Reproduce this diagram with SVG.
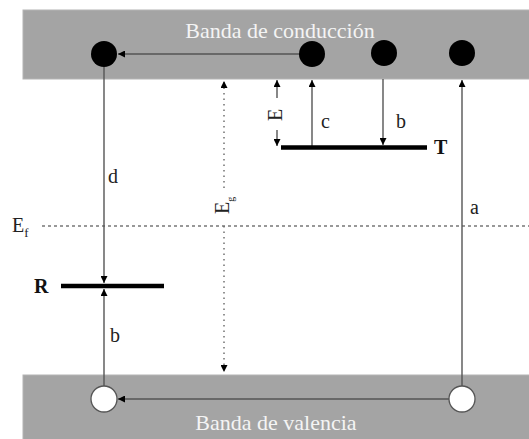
<svg xmlns="http://www.w3.org/2000/svg" width="529" height="439" viewBox="0 0 529 439">
  <style>
    .band { fill: #a4a4a4; stroke: #b4b4b4; stroke-width: 1; }
    .serif { font-family: "Times New Roman", "Liberation Serif", "DejaVu Serif", serif; }
    .band-label { font-size: 22px; fill: #f4f4f4; text-anchor: middle; }
    .lbl { font-size: 20px; fill: #222; }
    .bold { font-size: 20px; font-weight: bold; fill: #111; }
    .conn { stroke: #555; stroke-width: 1.4; fill: none; }
    .dotted { stroke: #666; stroke-width: 1.4; fill: none; stroke-dasharray: 1.5 4; }
    .dashed { stroke: #777; stroke-width: 1.4; fill: none; stroke-dasharray: 3 3; }
    .level { stroke: #000; stroke-width: 4.5; }
    .electron { fill: #000; }
    .hole { fill: #fff; stroke: #555; stroke-width: 1.3; }
  </style>
  <defs>
    <marker id="arr" viewBox="0 0 10 10" refX="10" refY="5" markerWidth="7" markerHeight="7" markerUnits="userSpaceOnUse" orient="auto">
      <path d="M0,0 L10,5 L0,10 z" fill="#000"/>
    </marker>
  </defs>

  <rect width="529" height="439" fill="#fff"/>

  <!-- energy bands -->
  <g id="conduction-band">
    <rect class="band" x="23" y="10" width="510" height="69"/>
    <text class="serif band-label" x="280" y="38">Banda de conducción</text>
  </g>
  <g id="valence-band">
    <rect class="band" x="23" y="375" width="510" height="70"/>
    <text class="serif band-label" x="276" y="430">Banda de valencia</text>
  </g>

  <!-- Fermi level -->
  <g id="fermi-level">
    <line class="dashed" x1="42" y1="226" x2="529" y2="226"/>
    <text class="serif lbl" x="12" y="232">E<tspan font-size="13" dy="5">f</tspan></text>
  </g>

  <!-- connectors -->
  <g id="connectors">
    <!-- electron drift in conduction band -->
    <line class="conn" x1="299" y1="54" x2="118" y2="54" marker-end="url(#arr)"/>
    <!-- hole drift in valence band -->
    <line class="conn" x1="449" y1="399" x2="118" y2="399" marker-end="url(#arr)"/>
    <!-- d: conduction band to R -->
    <line class="conn" x1="104" y1="67" x2="104" y2="283" marker-end="url(#arr)"/>
    <!-- b: valence band to R -->
    <line class="conn" x1="104" y1="386" x2="104" y2="289" marker-end="url(#arr)"/>
    <!-- a: valence band to conduction band -->
    <line class="conn" x1="462" y1="386" x2="462" y2="80" marker-end="url(#arr)"/>
    <!-- c: T up to conduction band -->
    <line class="conn" x1="312" y1="146" x2="312" y2="80" marker-end="url(#arr)"/>
    <!-- b: conduction band down to T -->
    <line class="conn" x1="383" y1="79" x2="383" y2="145" marker-end="url(#arr)"/>
    <!-- E: trap depth -->
    <line class="conn" x1="277" y1="98" x2="277" y2="80" marker-end="url(#arr)"/>
    <line class="conn" x1="277" y1="130" x2="277" y2="146" marker-end="url(#arr)"/>
    <!-- Eg: band gap -->
    <line class="dotted" x1="224" y1="188" x2="224" y2="81" marker-end="url(#arr)"/>
    <line class="dotted" x1="224" y1="226" x2="224" y2="372" marker-end="url(#arr)"/>
  </g>

  <!-- labels on connectors -->
  <g id="connector-labels">
    <text class="serif lbl" x="108" y="183">d</text>
    <text class="serif lbl" x="110" y="342">b</text>
    <text class="serif lbl" x="470" y="214">a</text>
    <text class="serif lbl" x="321" y="128">c</text>
    <text class="serif lbl" x="396" y="128">b</text>
    <text class="serif lbl" font-size="16" transform="translate(282,121) rotate(-90)">E</text>
    <text class="serif lbl" font-size="16" transform="translate(229,214) rotate(-90)">E<tspan font-size="10" dy="5">g</tspan></text>
  </g>

  <!-- trap level T -->
  <g id="trap-T">
    <line class="level" x1="281" y1="147.5" x2="427" y2="147.5"/>
    <text class="serif bold" x="434" y="154">T</text>
  </g>

  <!-- recombination level R -->
  <g id="recombination-R">
    <line class="level" x1="61" y1="286" x2="164" y2="286"/>
    <text class="serif bold" x="34" y="293">R</text>
  </g>

  <!-- electrons -->
  <g id="electron-1"><circle class="electron" cx="104" cy="54" r="13"/></g>
  <g id="electron-2"><circle class="electron" cx="312" cy="54" r="13"/></g>
  <g id="electron-3"><circle class="electron" cx="384" cy="53" r="13"/></g>
  <g id="electron-4"><circle class="electron" cx="462" cy="53" r="13"/></g>

  <!-- holes -->
  <g id="hole-1"><circle class="hole" cx="104" cy="399" r="13"/></g>
  <g id="hole-2"><circle class="hole" cx="462" cy="399" r="13"/></g>
</svg>
